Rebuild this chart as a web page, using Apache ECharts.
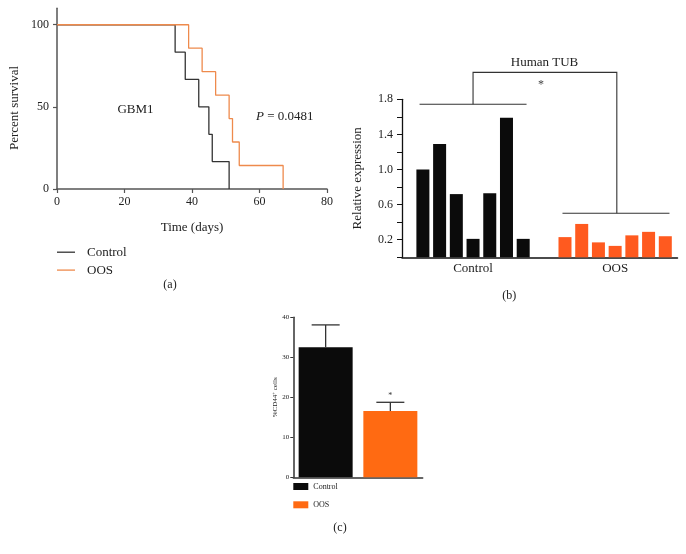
<!DOCTYPE html>
<html><head><meta charset="utf-8">
<script src="https://cdn.jsdelivr.net/npm/echarts@6/dist/echarts.min.js"></script>
<style>html,body{margin:0;padding:0;background:#fff}#c{width:686px;height:554px}</style>
</head><body><div id="c"></div>
<script>
// ---------- Panel (a): Kaplan-Meier survival, GBM1 ----------
const kmControlDays = [0, 35, 38, 42, 45, 46, 51];
const kmControlSurvival = [100, 83.3, 66.7, 50, 33.3, 16.7, 0];
const kmOosDays = [0, 39, 43, 47, 51, 52, 54, 67];
const kmOosSurvival = [100, 85.7, 71.4, 57.1, 42.9, 28.6, 14.3, 0];
const kmYTicks = [0, 50, 100];

// ---------- Panel (b): Human TUB relative expression ----------
const tubGroups = ['Control', 'OOS'];
const tubControl = [1.0, 1.29, 0.72, 0.21, 0.73, 1.59, 0.21];
const tubOos = [0.23, 0.38, 0.17, 0.13, 0.25, 0.29, 0.24];
const tubYLabels = [0.2, 0.6, 1.0, 1.4, 1.8];

// ---------- Panel (c): %CD44+ cells ----------
const cd44Groups = ['Control', 'OOS'];
const cd44Mean = [32.5, 16.6];
const cd44Upper = [38.1, 18.75];
const cd44Sig = ['', '*'];

const SERIF = 'Liberation Serif, Times New Roman, serif';
const TXT = '#222';
const BLACK = '#0b0b0b';
const ORANGE_B = '#ff5a1f';
const ORANGE_C = '#ff6a12';
const OOS_OFFSET = 8.5; // slot offset of the OOS group in panel (b)

const ctrlCenter = (tubControl.length - 1) / 2;
const oosCenter = OOS_OFFSET + (tubOos.length - 1) / 2;

const chart = echarts.init(document.getElementById('c'), null, {renderer: 'canvas'});

const option = {
  backgroundColor: '#fff',
  animation: false,
  textStyle: {fontFamily: SERIF, color: TXT},
  grid: [
    {left: 57, top: 8.3, width: 270, height: 180.7},
    {left: 402, top: 99.3, width: 275.5, height: 158},
    {left: 293.3, top: 317.3, width: 129.4, height: 160}
  ],
  xAxis: [
    {
      gridIndex: 0, type: 'value', min: 0, max: 80, interval: 20,
      name: 'Time (days)', nameLocation: 'middle', nameGap: 32,
      nameTextStyle: {fontFamily: SERIF, fontSize: 13, color: TXT},
      axisLine: {onZero: false, lineStyle: {color: '#555', width: 1.5}},
      axisTick: {show: true, length: 4, lineStyle: {color: '#555', width: 1.2}},
      axisLabel: {fontFamily: SERIF, fontSize: 12, color: TXT, margin: 7},
      splitLine: {show: false}
    },
    {
      gridIndex: 1, type: 'value', min: -1.25, max: 15.23,
      axisLine: {onZero: false, lineStyle: {color: '#111', width: 1.5}},
      axisTick: {show: false},
      axisLabel: {
        fontFamily: SERIF, fontSize: 13, color: TXT, margin: 5,
        customValues: [ctrlCenter, oosCenter],
        formatter: v => (Math.abs(v - ctrlCenter) < 1e-6 ? tubGroups[0] : tubGroups[1])
      },
      splitLine: {show: false}
    },
    {
      gridIndex: 2, type: 'category', data: cd44Groups,
      axisLine: {lineStyle: {color: '#333', width: 1.5}},
      axisTick: {show: false},
      axisLabel: {show: false}
    }
  ],
  yAxis: [
    {
      gridIndex: 0, type: 'value', min: 0, max: 110,
      axisLine: {show: true, onZero: false, lineStyle: {color: '#555', width: 1.5}},
      axisTick: {show: true, length: 4, customValues: kmYTicks, lineStyle: {color: '#555', width: 1.2}},
      axisLabel: {fontFamily: SERIF, fontSize: 12, color: TXT, margin: 8, customValues: kmYTicks},
      splitLine: {show: false}
    },
    {
      gridIndex: 1, type: 'value', min: 0, max: 1.8, interval: 0.2,
      name: 'Relative expression', nameLocation: 'middle', nameGap: 38,
      nameTextStyle: {fontFamily: SERIF, fontSize: 13, color: TXT},
      axisLine: {show: true, onZero: false, lineStyle: {color: '#111', width: 1.3}},
      axisTick: {show: true, length: 5, lineStyle: {color: '#111', width: 1}},
      axisLabel: {
        fontFamily: SERIF, fontSize: 12, color: TXT, margin: 9,
        customValues: tubYLabels, formatter: v => v.toFixed(1)
      },
      splitLine: {show: false}
    },
    {
      gridIndex: 2, type: 'value', min: 0, max: 40, interval: 10,
      name: '%CD44{sup|+} cells', nameLocation: 'middle', nameGap: 15,
      nameTextStyle: {fontFamily: SERIF, fontSize: 7, color: TXT,
        rich: {sup: {fontSize: 5, verticalAlign: 'top', fontFamily: SERIF, color: TXT}}},
      axisLine: {show: true, onZero: false, lineStyle: {color: '#333', width: 1.5}},
      axisTick: {show: true, length: 3, lineStyle: {color: '#333', width: 1}},
      axisLabel: {fontFamily: SERIF, fontSize: 7, color: TXT, margin: 4},
      splitLine: {show: false}
    }
  ],
  legend: [
    {
      left: 57, top: 245.7, padding: 0, orient: 'vertical', itemWidth: 18, itemHeight: 1.3, itemGap: 4.9,
      icon: 'rect',
      data: ['Control', 'OOS'],
      textStyle: {fontFamily: SERIF, fontSize: 13, color: TXT, padding: [0, 0, 0, 7]},
      selectedMode: false
    },
    {
      left: 293.3, top: 482.5, padding: 0, orient: 'vertical', itemWidth: 15, itemHeight: 7, itemGap: 10.3,
      icon: 'rect',
      data: ['c:Control', 'c:OOS'],
      formatter: n => n.split(':')[1],
      textStyle: {fontFamily: SERIF, fontSize: 8, color: TXT},
      selectedMode: false
    }
  ],
  series: [
    // (a)
    {
      name: 'Control', type: 'line', xAxisIndex: 0, yAxisIndex: 0, step: 'end',
      symbol: 'none', color: '#333',
      lineStyle: {color: '#333', width: 1.3},
      data: kmControlDays.map((d, i) => [d, kmControlSurvival[i]])
    },
    {
      name: 'OOS', type: 'line', xAxisIndex: 0, yAxisIndex: 0, step: 'end',
      symbol: 'none', color: '#ee8a4c',
      lineStyle: {color: '#ee8a4c', width: 1.3},
      data: kmOosDays.map((d, i) => [d, kmOosSurvival[i]])
    },
    // (b)
    {
      name: 'b:Control', type: 'bar', xAxisIndex: 1, yAxisIndex: 1,
      barWidth: 13, barGap: '-100%', itemStyle: {color: BLACK},
      data: tubControl.map((v, i) => [i, v])
    },
    {
      name: 'b:OOS', type: 'bar', xAxisIndex: 1, yAxisIndex: 1,
      barWidth: 13, barGap: '-100%', itemStyle: {color: ORANGE_B},
      data: tubOos.map((v, i) => [i + OOS_OFFSET, v])
    },
    {
      name: 'b:brackets', type: 'custom', xAxisIndex: 1, yAxisIndex: 1, clip: false,
      silent: true,
      data: [[0]],
      renderItem: (params, api) => {
        const hw = 3.2;
        const ctrlY = 1.743, topY = 2.107, oosY = 0.501;
        const oosX = oosCenter + 0.1;
        const p = (x, y) => api.coord([x, y]);
        const ls = {stroke: '#333', lineWidth: 1.1, fill: null};
        return {
          type: 'group', children: [
            {type: 'polyline', shape: {points: [p(ctrlCenter - hw, ctrlY), p(ctrlCenter + hw, ctrlY)]}, style: ls},
            {type: 'polyline', shape: {points: [p(ctrlCenter, ctrlY), p(ctrlCenter, topY), p(oosX, topY), p(oosX, oosY)]}, style: ls},
            {type: 'polyline', shape: {points: [p(oosCenter - hw + 0.05, oosY), p(oosCenter + hw + 0.05, oosY)]}, style: ls}
          ]
        };
      }
    },
    // (c)
    {
      name: 'c:Control', type: 'bar', xAxisIndex: 2, yAxisIndex: 2,
      barWidth: 54, barGap: '-100%', itemStyle: {color: BLACK},
      data: cd44Mean.map((v, i) => (i === 0 ? v : '-'))
    },
    {
      name: 'c:OOS', type: 'bar', xAxisIndex: 2, yAxisIndex: 2,
      barWidth: 54, barGap: '-100%', itemStyle: {color: ORANGE_C},
      data: cd44Mean.map((v, i) => (i === 1 ? v : '-'))
    },
    {
      name: 'c:error', type: 'custom', xAxisIndex: 2, yAxisIndex: 2, clip: false, silent: true,
      data: cd44Mean.map((m, i) => [i, m, cd44Upper[i]]),
      z: 5,
      renderItem: (params, api) => {
        const i = api.value(0);
        const a = api.coord([i, api.value(1)]);
        const b = api.coord([i, api.value(2)]);
        const cap = 14;
        const ls = {stroke: '#333', lineWidth: 1.3, fill: null};
        const children = [
          {type: 'line', shape: {x1: a[0], y1: a[1], x2: b[0], y2: b[1]}, style: ls},
          {type: 'line', shape: {x1: b[0] - cap, y1: b[1], x2: b[0] + cap, y2: b[1]}, style: ls}
        ];
        const s = cd44Sig[params.dataIndex];
        if (s) children.push({type: 'text', x: b[0], y: b[1] - 2,
          style: {text: s, fontSize: 8, fontFamily: SERIF, fill: '#333', align: 'center', verticalAlign: 'bottom'}});
        return {type: 'group', children};
      }
    }
  ],
  graphic: [
    {type: 'text', x: 15, y: 108, rotation: Math.PI / 2,
      style: {text: 'Percent survival', fontFamily: SERIF, fontSize: 13, fill: TXT, align: 'center', verticalAlign: 'middle'}},
    {type: 'text', x: 135.5, y: 110, style: {text: 'GBM1', fontFamily: SERIF, fontSize: 13, fill: TXT, align: 'center', verticalAlign: 'middle'}},
    {type: 'text', x: 284.7, y: 116.7, style: {
      text: '{i|P} = 0.0481', fontFamily: SERIF, fontSize: 13, fill: TXT, align: 'center', verticalAlign: 'middle',
      rich: {i: {fontStyle: 'italic', fontFamily: SERIF, fontSize: 13, fill: TXT}}}},
    {type: 'text', x: 170, y: 285, style: {text: '(a)', fontFamily: SERIF, fontSize: 12, fill: TXT, align: 'center', verticalAlign: 'middle'}},
    {type: 'text', x: 544.5, y: 62.3, style: {text: 'Human TUB', fontFamily: SERIF, fontSize: 13, fill: TXT, align: 'center', verticalAlign: 'middle'}},
    {type: 'text', x: 541, y: 84.5, style: {text: '*', fontFamily: SERIF, fontSize: 12, fill: '#444', align: 'center', verticalAlign: 'middle'}},
    {type: 'text', x: 509.3, y: 296, style: {text: '(b)', fontFamily: SERIF, fontSize: 12, fill: TXT, align: 'center', verticalAlign: 'middle'}},
    {type: 'text', x: 340, y: 528, style: {text: '(c)', fontFamily: SERIF, fontSize: 12, fill: TXT, align: 'center', verticalAlign: 'middle'}}
  ]
};
chart.setOption(option);
</script>
</body></html>
